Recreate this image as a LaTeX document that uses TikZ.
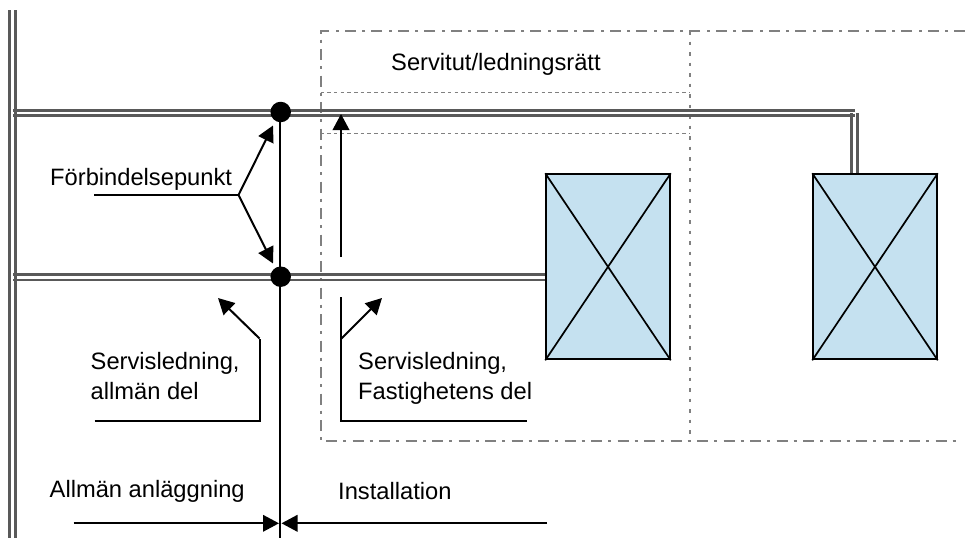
\documentclass[tikz,border=0pt]{standalone}
\usepackage{fontspec}
\setmainfont{Liberation Sans}
\usetikzlibrary{arrows.meta,calc}
\definecolor{pipe}{HTML}{595959}
\definecolor{bound}{HTML}{808080}
\definecolor{house}{HTML}{C5E1F0}
\tikzset{
  x=1pt,y=-1pt,
  pipeline/.style={draw=pipe,line width=2.7pt},
  leader/.style={draw=black,line width=2pt},
  headed/.style={leader,-{Triangle[length=16pt,width=16.5pt]}},
  dashdotline/.style={draw=bound,line width=2pt,dash pattern=on 11pt off 6pt on 3pt off 6.5pt},
  dotline/.style={draw=bound,line width=2pt,dash pattern=on 3.5pt off 7pt},
  fineline/.style={draw=bound,line width=1.9pt,dash pattern=on 3.5pt off 3.2pt},
  label/.style={anchor=base west,inner sep=0pt,font=\fontsize{23.7pt}{28pt}\selectfont},
  dot/.style={circle,fill=black,minimum size=20.5pt,inner sep=0pt},
  building/.style={rectangle,draw=black,fill=house,line width=2pt,minimum width=123.5pt,minimum height=185pt,inner sep=0pt},
}
\begin{document}
\begin{tikzpicture}
\useasboundingbox (0,0) rectangle (965,538);
\fill[white] (0,0) rectangle (965,538);
% boundaries
\coordinate (bTL) at (320.5,31);
\coordinate (bTR) at (965,31);
\coordinate (bBL) at (320.5,441);
\coordinate (bBR) at (960,441);
\coordinate (dT) at (690.3,31);
\coordinate (dB) at (690.3,441);
\coordinate (s1L) at (320.5,92.5);
\coordinate (s1R) at (690.3,92.5);
\coordinate (s2L) at (320.5,133.5);
\coordinate (s2R) at (690.3,133.5);
\draw[dashdotline] (bTR) -- (bTL) -- (bBL) -- (bBR);
\draw[dotline] (dT) -- (dB);
\draw[fineline] (s1L) -- (s1R);
\draw[fineline] (s2L) -- (s2R);
% buildings
\node[building] (h1) at (608,266.8) {};
\node[building] (h2) at (875,266.8) {};
% pipes
\coordinate (m1T) at (9.7,10);
\coordinate (m1B) at (9.7,538);
\coordinate (m2T) at (15.3,10);
\coordinate (m2B) at (15.3,538);
\draw[pipeline] (m1T) -- (m1B);
\draw[pipeline] (m2T) -- (m2B);
\coordinate (t1a) at (13,110.3);
\coordinate (t1b) at (855,110.3);
\coordinate (t2a) at (13,115.3);
\coordinate (t2b) at (855,115.3);
\draw[pipeline] (t1a) -- (t1b);
\draw[pipeline] (t2a) -- (t2b);
\coordinate (l1a) at (13,274.6);
\coordinate (l2a) at (13,279.9);
\draw[pipeline] (l1a) -- (l1a -| h1.west);
\draw[pipeline] (l2a) -- (l2a -| h1.west);
\coordinate (v1) at (851.7,113);
\coordinate (v2) at (857.3,113);
\draw[pipeline] (v1) -- (v1 |- h2.north);
\draw[pipeline] (v2) -- (v2 |- h2.north);
\draw[line width=1.7pt] (h1.north west) -- (h1.south east) (h1.north east) -- (h1.south west);
\draw[line width=1.7pt] (h2.north west) -- (h2.south east) (h2.north east) -- (h2.south west);
% connection points
\node[dot] (p1) at (280.7,112) {};
\node[dot] (p2) at (280.7,276.7) {};
\coordinate (axisB) at (279.8,538);
\draw[leader] (p1.center -| axisB) -- (axisB);
% Förbindelsepunkt
\node[label] (fp) at (50,185) {Förbindelsepunkt};
\coordinate (f0) at (94,195);
\coordinate (f1) at (238.5,195);
\coordinate (f2) at (273,125.5);
\coordinate (f3) at (273,263.5);
\draw[leader] (f0) -- (f1);
\draw[headed] (f1) -- (f2);
\draw[headed] (f1) -- (f3);
% up arrow
\coordinate (u0) at (341,257);
\coordinate (u1) at (341,114);
\draw[headed] (u0) -- (u1);
% Servitut
\node[label] (sv) at (391,70.5) {Servitut/ledningsrätt};
% allmän del
\node[label] (a1) at (90.5,369) {Servisledning,};
\node[label] (a2) at (90.5,399) {allmän del};
\coordinate (a0) at (94.5,421);
\coordinate (ac) at (259.5,421);
\coordinate (ad) at (259.5,338.5);
\coordinate (ae) at (218,298);
\draw[leader] (a0) -- (ac) -- (ad);
\draw[headed] (ad) -- (ae);
% fastighetens del
\node[label] (b1) at (358,369) {Servisledning,};
\node[label] (b2) at (358,399) {Fastighetens del};
\coordinate (b0) at (526.5,421);
\coordinate (bc) at (341,421);
\coordinate (bd) at (341,297);
\coordinate (be) at (341,339);
\coordinate (bf) at (382,298);
\draw[leader] (b0) -- (bc) -- (bd);
\draw[headed] (be) -- (bf);
% bottom
\node[label] (c1) at (49.5,497) {Allmän anläggning};
\node[label] (c2) at (338,499) {Installation};
\coordinate (d0) at (73.5,523.3);
\coordinate (d1) at (279,523.3);
\coordinate (e0) at (547,523.3);
\coordinate (e1) at (281.5,523.3);
\draw[headed] (d0) -- (d1);
\draw[headed] (e0) -- (e1);
\end{tikzpicture}
\end{document}
